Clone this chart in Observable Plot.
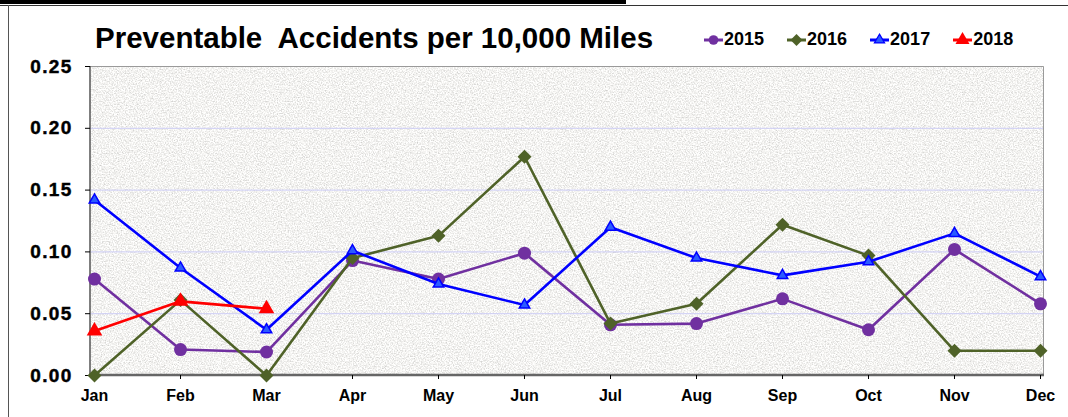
<!DOCTYPE html>
<html>
<head>
<meta charset="utf-8">
<script src="https://cdn.jsdelivr.net/npm/d3@7"></script>
<script src="https://cdn.jsdelivr.net/npm/@observablehq/plot@0.6"></script>
<style>
  html, body { margin: 0; padding: 0; background: #fff; }
  #wrap { position: relative; width: 1068px; height: 417px; overflow: hidden; font-family: "Liberation Sans", Arial, sans-serif; }
  #wrap > svg { position: absolute; left: 0; top: 0; }
  .rule-top-thick { position: absolute; left: 0; top: 0; width: 626px; height: 4px; background: #000; }
  .rule-top-thin { position: absolute; left: 0; top: 5px; width: 1068px; height: 1px; background: #333; }
  .rule-left { position: absolute; left: 8px; top: 5px; width: 1px; height: 412px; background: #555; }
  #title { position: absolute; left: 95px; top: 21px; font-size: 29.5px; font-weight: bold; line-height: normal; white-space: pre; color: #000; z-index: 2; }
  #legend { position: absolute; left: 704px; top: 29px; display: flex; gap: 23px; align-items: center; z-index: 2; }
  #legend .item { display: flex; align-items: center; font-size: 18px; font-weight: bold; line-height: normal; }
  #legend .item svg { display: block; }
</style>
</head>
<body>
<div id="wrap">
  <div class="rule-top-thick"></div>
  <div class="rule-top-thin"></div>
  <div class="rule-left"></div>
  <div id="title">Preventable  Accidents per 10,000 Miles</div>
  <div id="legend"></div>
</div>
<script>
// Monthly preventable accidents per 10,000 miles, one array per year
const months = ["Jan", "Feb", "Mar", "Apr", "May", "Jun", "Jul", "Aug", "Sep", "Oct", "Nov", "Dec"];
const years = ["2015", "2016", "2017", "2018"];
const rate2015 = [0.078, 0.021, 0.019, 0.093, 0.078, 0.099, 0.041, 0.042, 0.062, 0.037, 0.102, 0.058];
const rate2016 = [0.000, 0.061, 0.000, 0.095, 0.113, 0.177, 0.042, 0.058, 0.122, 0.097, 0.020, 0.020];
const rate2017 = [0.142, 0.087, 0.037, 0.101, 0.074, 0.057, 0.120, 0.095, 0.081, 0.092, 0.115, 0.080];
const rate2018 = [0.036, 0.060, 0.054];
const yTicks = [0, 0.05, 0.10, 0.15, 0.20, 0.25];

// Per-series styling
const seriesStyle = {
  "2015": {color: "#7030a0", symbol: "circle", r: 6.5, fill: "#7030a0", stroke: "none", legendR: 4.8},
  "2016": {color: "#4f6228", symbol: "diamond2", r: 6.3, fill: "#4f6228", stroke: "none", legendR: 5.4},
  "2017": {color: "#0000ff", symbol: "triangle", r: 3.9, fill: "#2b5bff", stroke: "#0000ff", legendR: 3.8},
  "2018": {color: "#ff0000", symbol: "triangle", r: 5.8, fill: "#ff0000", stroke: "none", legendR: 5.2}
};

const rates = {"2015": rate2015, "2016": rate2016, "2017": rate2017, "2018": rate2018};
const rows = years.map(year => rates[year].map((value, i) => ({year, month: months[i], value})));

// Plotting area: grainy stone-like fill
function plotArea(index, scales, values, dims) {
  const g = d3.create("svg:g");
  const x0 = dims.marginLeft, y0 = dims.marginTop;
  const x1 = dims.width - dims.marginRight, y1 = dims.height - dims.marginBottom;
  const f = g.append("defs").append("filter").attr("id", "stone")
    .attr("filterUnits", "userSpaceOnUse")
    .attr("x", x0).attr("y", y0).attr("width", x1 - x0).attr("height", y1 - y0)
    .attr("color-interpolation-filters", "sRGB");
  f.append("feTurbulence").attr("type", "fractalNoise").attr("baseFrequency", 0.75)
    .attr("numOctaves", 3).attr("seed", 7);
  f.append("feColorMatrix").attr("type", "matrix")
    .attr("values", "0.38 0 0 0 0.765  0.38 0 0 0 0.763  0.38 0 0 0 0.755  0 0 0 0 1");
  g.append("rect")
    .attr("x", x0).attr("y", y0).attr("width", x1 - x0).attr("height", y1 - y0)
    .attr("fill", "#e3e3e1")
    .attr("filter", "url(#stone)");
  return g.node();
}

// Light border on top and right, dark axis lines on left and bottom
function plotBorder(index, scales, values, dims) {
  const g = d3.create("svg:g").attr("fill", "none");
  const x0 = dims.marginLeft, y0 = dims.marginTop;
  const x1 = dims.width - dims.marginRight, y1 = dims.height - dims.marginBottom;
  g.append("path").attr("d", `M${x0},${y0 + 0.5}H${x1 - 0.5}V${y1}`)
    .attr("stroke", "#9a9a9a").attr("stroke-width", 1);
  g.append("line").attr("x1", x0).attr("x2", x0).attr("y1", y0).attr("y2", y1)
    .attr("stroke", "#555").attr("stroke-width", 1.5);
  g.append("line").attr("x1", x0).attr("x2", x1).attr("y1", y1).attr("y2", y1)
    .attr("stroke", "#666").attr("stroke-width", 2.5);
  return g.node();
}

const seriesMarks = years.flatMap((year, k) => {
  const s = seriesStyle[year];
  return [
    Plot.line(rows[k], {x: "month", y: "value", stroke: s.color, strokeWidth: 2.6}),
    Plot.dot(rows[k], {x: "month", y: "value", symbol: s.symbol, r: s.r, fill: s.fill,
      stroke: s.stroke, strokeWidth: s.stroke === "none" ? 0 : 1.5})
  ];
});

const chart = Plot.plot({
  width: 1068,
  height: 417,
  marginTop: 66,
  marginBottom: 42,
  marginLeft: 90,
  marginRight: 24,
  style: {fontFamily: "'Liberation Sans', Arial, sans-serif", background: "transparent", overflow: "visible", color: "#000"},
  x: {type: "point", domain: months, padding: 0},
  y: {domain: [0, 0.25]},
  marks: [
    plotArea,
    Plot.gridY(yTicks.slice(1, -1), {stroke: "#cdcdf6", strokeOpacity: 1, strokeWidth: 1}),
    plotBorder,
    Plot.axisY(yTicks, {tickFormat: d => d.toFixed(2), tickSize: 5, tickPadding: 13,
      fontSize: 19, fontWeight: "bold", color: "#000", label: null}),
    Plot.axisX(months, {tickSize: 4, tickPadding: 10, fontSize: 16, fontWeight: "bold",
      color: "#000", label: null}),
    ...seriesMarks
  ]
});

// Heavier, slightly spaced value labels on the y axis
chart.querySelectorAll('[aria-label="y-axis tick label"] text').forEach(t => {
  t.setAttribute("letter-spacing", "1.3");
  t.setAttribute("stroke", "#000");
  t.setAttribute("stroke-width", "0.45");
});
document.getElementById("wrap").appendChild(chart);

// Legend: short line with the series marker, then the year
const symbolTypes = {circle: d3.symbolCircle, diamond2: d3.symbolDiamond2, triangle: d3.symbolTriangle};
const legend = d3.select("#legend");
years.forEach(year => {
  const s = seriesStyle[year];
  const item = legend.append("div").attr("class", "item");
  const svg = item.append("svg").attr("width", 20).attr("height", 20);
  svg.append("line").attr("x1", 0).attr("x2", 19).attr("y1", 10).attr("y2", 10)
    .attr("stroke", s.color).attr("stroke-width", 3);
  svg.append("path")
    .attr("transform", "translate(9.5,10)")
    .attr("d", d3.symbol(symbolTypes[s.symbol], Math.PI * s.legendR * s.legendR)())
    .attr("fill", s.fill)
    .attr("stroke", s.stroke).attr("stroke-width", s.stroke === "none" ? 0 : 1.2);
  item.append("span").text(year);
});
</script>
</body>
</html>
